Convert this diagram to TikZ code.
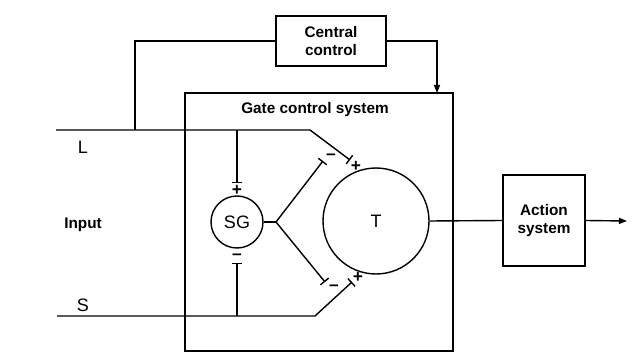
\documentclass[tikz,border=0pt]{standalone}
\usepackage{fontspec}
\setmainfont{Liberation Sans}
\usetikzlibrary{arrows.meta}
\begin{document}
\begin{tikzpicture}[x=0.75pt,y=-0.75pt, line width=1.05pt,
 box/.style={draw, line width=1.05pt, inner sep=0pt},
 lbl/.style={font=\fontsize{11.5}{13.5}\selectfont\bfseries, align=center},
 plain/.style={font=\fontsize{13.5}{15}\selectfont, inner sep=0pt},
 sgn/.style={font=\fontsize{13}{14}\selectfont\bfseries, inner sep=0pt},
 bar/.style={-{Bar[width=8pt,line width=1.05pt]}},
 arr/.style={-{Triangle[length=6pt,width=4.5pt]}}]
\useasboundingbox (0,0) rectangle (640,353);
\fill[white] (0,0) rectangle (640,353);

% boxes
\node[box, lbl, minimum width=82.5pt, minimum height=37.5pt] (central) at (331,41) {Central\\control};
\node[box, minimum width=201pt, minimum height=193.5pt] (gate) at (319,222) {};
\node[lbl] (gatetitle) at (315,110) {Gate control system};
\node[box, lbl, minimum width=61.5pt, minimum height=68.25pt] (action) at (544,220.5) {Action\\system};
\node[draw, circle, plain, minimum size=39pt] (sg) at (237,222) {SG};
\node[draw, circle, plain, minimum size=79.5pt] (t) at (376,221) {T};

% labels
\node[lbl] (input) at (83,225) {Input};
\node[plain] (llbl) at (83,147) {L};
\node[plain] (slbl) at (83,305) {S};

% coordinates
\coordinate (Lstart) at (56,130);
\coordinate (Ljoin) at (135,130);
\coordinate (Lsg) at (237,130);
\coordinate (Lbend) at (310,130);
\coordinate (Lend) at (350,160);
\coordinate (Lsgend) at (237,183);
\coordinate (Sstart) at (57,316);
\coordinate (Ssg) at (237,316);
\coordinate (Sbend) at (315,316);
\coordinate (Send) at (352,282);
\coordinate (Ssgend) at (237,263);
\coordinate (fork) at (276,222);
\coordinate (upend) at (323,161);
\coordinate (downend) at (325,282);
\coordinate (gtop) at (437,93);
\coordinate (outend) at (627,221);

% connectors
\draw (central.west) -| (Ljoin);
\draw[arr] (central.east) -| (gtop);
\draw[bar] (Lstart) -- (Lbend) -- (Lend);
\draw[bar] (Lsg) -- (Lsgend);
\draw[bar] (Sstart) -- (Sbend) -- (Send);
\draw[bar] (Ssg) -- (Ssgend);
\draw (sg.east) -- (fork);
\draw[bar] (fork) -- (upend);
\draw[bar] (fork) -- (downend);
\draw (t.east) -- (action.west);
\draw[arr] (action.east) -- (outend);

% signs
\node[sgn] (p1) at (237,190) {+};
\node[sgn] (m1) at (237,257) {--};
\node[sgn] (p2) at (356,166) {+};
\node[sgn] (m2) at (331,157) {--};
\node[sgn] (m3) at (334,288) {--};
\node[sgn] (p3) at (358,277) {+};
\end{tikzpicture}
\end{document}
